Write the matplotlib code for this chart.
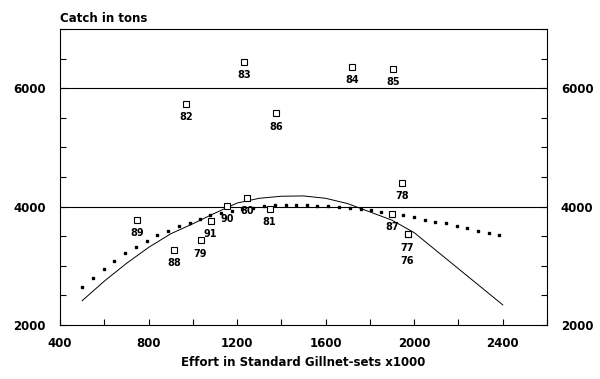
#!/usr/bin/env python3
import matplotlib
matplotlib.use("Agg")
import matplotlib.pyplot as plt
from matplotlib.ticker import MultipleLocator

# observed catch vs effort, labelled by year
years = ["77", "76", "78", "79", "80", "81", "82", "83", "84", "85",
         "86", "87", "88", "89", "90", "91"]
effort = [1970, 1970, 1945, 1035, 1245, 1347, 970, 1233, 1720, 1905,
          1375, 1900, 915, 750, 1155, 1080]
catch = [3530, 3530, 4400, 3430, 4150, 3955, 5735, 6450, 6360, 6320,
         5575, 3870, 3265, 3780, 4015, 3760]

# dotted model curve
dot_x = [500, 548, 598, 646, 693, 743, 793, 838, 888, 938,
         986, 1031, 1079, 1129, 1178, 1224, 1272, 1321, 1369, 1419,
         1467, 1514, 1563, 1612, 1660, 1709, 1759, 1804, 1852, 1902,
         1950, 2000, 2049, 2095, 2144, 2192, 2240, 2289, 2337, 2385]
dot_y = [2635, 2792, 2949, 3078, 3208, 3319, 3420, 3517, 3592, 3673,
         3730, 3791, 3850, 3891, 3921, 3955, 3980, 4005, 4022, 4027,
         4027, 4022, 4016, 4005, 3993, 3976, 3955, 3938, 3904, 3870,
         3859, 3825, 3781, 3747, 3719, 3680, 3634, 3596, 3555, 3517]

# solid model curve
line_x = [500, 600, 700, 800, 900, 1000, 1100, 1200, 1300, 1400,
          1500, 1600, 1700, 1800, 1900, 2000, 2100, 2200, 2300, 2400]
line_y = [2410, 2740, 3040, 3310, 3540, 3710, 3890, 4060, 4140, 4175,
          4180, 4140, 4050, 3910, 3770, 3560, 3255, 2950, 2645, 2340]

xticks = [400, 800, 1200, 1600, 2000, 2400]
yticks = [2000, 4000, 6000]

plt.rcParams['font.family'] = ['DejaVu Sans']
plt.rcParams['font.weight'] = 'bold'

fig = plt.figure(figsize=(6, 3.79), dpi=100)
ax = fig.add_axes([0.1, 0.1425, 0.8117, 0.781])
ax.set_xlim(400, 2600)
ax.set_ylim(2000, 7000)

for yv in [4000, 6000]:
    ax.axhline(yv, color='black', lw=0.8, zorder=1)

ax.plot(line_x, line_y, color='black', lw=0.7, zorder=2)
ax.plot(dot_x, dot_y, ls='none', marker='s', ms=1.8, color='black', zorder=3)
ax.plot(effort, catch, ls='none', marker='s', ms=4.8, mfc='white',
        mec='black', mew=0.8, zorder=4)

seen = {}
for lab, x, y in zip(years, effort, catch):
    n = seen.get((x, y), 0)
    seen[(x, y)] = n + 1
    ax.annotate(lab, (x, y), xytext=(0, -9.5 - 9.5 * n), textcoords='offset points',
                ha='center', va='center', fontsize=7, fontweight='bold', zorder=5)

ax.set_xticks(xticks)
ax.set_yticks(yticks)
ax.xaxis.set_minor_locator(MultipleLocator(200))
ax.yaxis.set_minor_locator(MultipleLocator(500))
ax.tick_params(axis='both', which='both', direction='in', length=4, width=0.8,
               labelsize=8.5, right=True, labelright=True, top=False)
ax.tick_params(axis='y', which='both', pad=10)
ax.tick_params(axis='x', which='both', pad=9)
for s in ax.spines.values():
    s.set_linewidth(0.8)

ax.set_xlabel('Effort in Standard Gillnet-sets x1000', fontsize=8.5,
              fontweight='bold', labelpad=4)
fig.text(0.1, 0.95, 'Catch in tons', fontsize=8.5, fontweight='bold',
         ha='left', va='center')

fig.savefig('out.png', dpi=100)
